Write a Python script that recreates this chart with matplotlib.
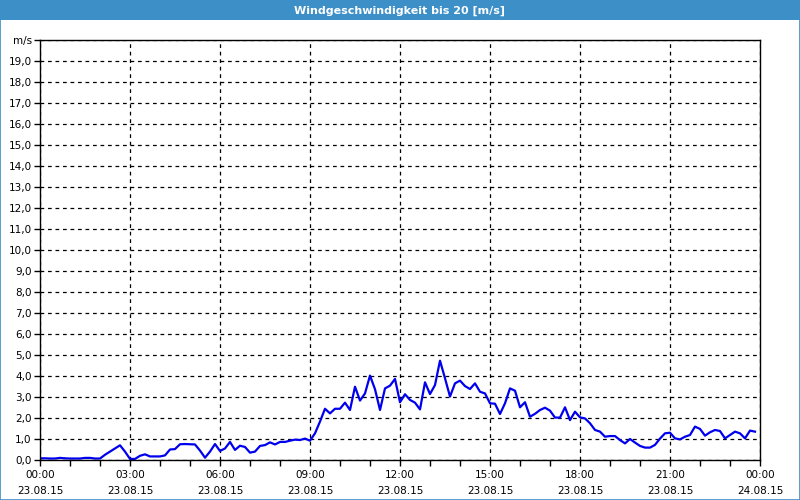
import numpy as np
import matplotlib.pyplot as plt
from matplotlib.patches import Rectangle
from matplotlib.ticker import FixedLocator, MultipleLocator

# wind speed in m/s, one value every 10 minutes from 23.08.15 00:00
speed = [0.08, 0.08, 0.07, 0.07, 0.10, 0.08, 0.07, 0.07, 0.07, 0.10, 0.10, 0.07,
         0.07, 0.25, 0.40, 0.55, 0.70, 0.40, 0.05, 0.05, 0.20, 0.27, 0.17, 0.17,
         0.17, 0.22, 0.50, 0.52, 0.75, 0.76, 0.75, 0.74, 0.45, 0.11, 0.40, 0.76,
         0.43, 0.55, 0.86, 0.48, 0.68, 0.62, 0.35, 0.40, 0.67, 0.71, 0.84, 0.74,
         0.86, 0.86, 0.92, 0.97, 0.95, 1.02, 0.92, 1.27, 1.83, 2.44, 2.22, 2.44,
         2.44, 2.73, 2.38, 3.49, 2.83, 3.17, 4.02, 3.37, 2.38, 3.41, 3.54, 3.86,
         2.75, 3.13, 2.86, 2.73, 2.41, 3.70, 3.14, 3.57, 4.73, 3.89, 3.02, 3.65,
         3.78, 3.52, 3.38, 3.65, 3.25, 3.17, 2.70, 2.68, 2.19, 2.70, 3.41, 3.30,
         2.51, 2.75, 2.06, 2.20, 2.38, 2.49, 2.35, 2.02, 2.02, 2.51, 1.90, 2.30,
         2.03, 1.98, 1.75, 1.43, 1.35, 1.11, 1.14, 1.14, 0.95, 0.79, 1.00, 0.83,
         0.67, 0.59, 0.59, 0.72, 1.02, 1.27, 1.30, 1.03, 0.98, 1.11, 1.19, 1.59,
         1.48, 1.16, 1.32, 1.43, 1.38, 1.03, 1.19, 1.35, 1.27, 1.03, 1.40, 1.35]
hours = np.arange(len(speed)) / 6.0

tick_hours = [0, 3, 6, 9, 12, 15, 18, 21, 24]
tick_labels = ["00:00\n23.08.15", "03:00\n23.08.15", "06:00\n23.08.15",
               "09:00\n23.08.15", "12:00\n23.08.15", "15:00\n23.08.15",
               "18:00\n23.08.15", "21:00\n23.08.15", "00:00\n24.08.15"]
title = "Windgeschwindigkeit bis 20 [m/s]"

fig = plt.figure(figsize=(8, 5), dpi=100)
fig.patch.set_facecolor("white")

# blue title bar and thin frame
fig.patches.append(Rectangle((0, 0.96), 1, 0.04, transform=fig.transFigure,
                             facecolor="#3c8fc7", edgecolor="none"))
fig.patches.append(Rectangle((0.0006, 0.001), 0.9988, 0.998, transform=fig.transFigure,
                             facecolor="none", edgecolor="#3c8fc7", linewidth=1.2))
fig.text(0.5, 0.979, title, color="white", fontsize=8, fontweight="bold",
         ha="center", va="center")

ax = fig.add_axes([0.05, 0.08, 0.90, 0.84])
ax.plot(hours, speed, color="#0000ee", linewidth=1.6)

ax.set_xlim(0, 24)
ax.set_ylim(0, 20)

ax.xaxis.set_major_locator(FixedLocator(tick_hours))
ax.set_xticklabels(tick_labels, linespacing=1.75)
ax.xaxis.set_minor_locator(MultipleLocator(1))
ax.set_yticks(range(0, 21))
ax.set_yticklabels([f"{v},0" for v in range(0, 20)] + ["m/s"])

ax.tick_params(axis="both", which="both", direction="out", length=4, width=1,
               labelsize=7.5, colors="black", pad=2)
ax.tick_params(axis="x", which="major", pad=3)

ax.grid(True, which="major", color="black", linestyle=(0, (3, 3)), linewidth=0.9)
for s in ax.spines.values():
    s.set_linewidth(1)
    s.set_color("black")

fig.savefig("out.png", dpi=100)
